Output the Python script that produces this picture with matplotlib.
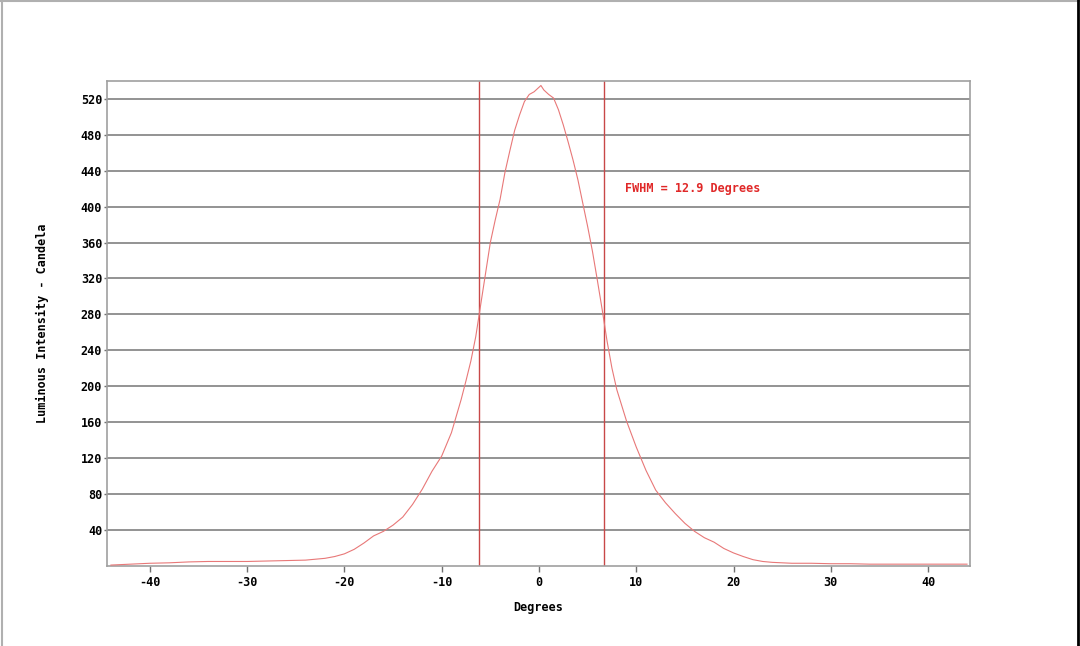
import matplotlib.pyplot as plt
from matplotlib.lines import Line2D

# angle (degrees) and luminous intensity (candela)
degrees = [-44, -42, -40, -38, -36, -34, -32, -30, -28, -26, -24, -23, -22, -21,
           -20, -19, -18, -17, -16, -15, -14, -13, -12, -11, -10, -9, -8, -7.5,
           -7, -6.5, -6, -5.5, -5, -4.5, -4, -3.5, -3, -2.5, -2, -1.5, -1, -0.5,
           0, 0.2, 0.5, 1, 1.5, 2, 2.5, 3, 3.5, 4, 4.5, 5, 5.5, 6, 6.5, 7, 7.5,
           8, 9, 10, 11, 12, 13, 14, 15, 16, 17, 18, 19, 20, 21, 22, 23, 24,
           26, 28, 30, 32, 34, 36, 38, 40, 42, 44]
candela = [0.5, 1.5, 2.5, 3, 4, 4.5, 4.5, 4.5, 5, 5.5, 6, 7, 8, 10,
           13, 18, 25, 33, 38, 45, 54, 68, 85, 105, 122, 148, 185, 206,
           228, 255, 290, 325, 360, 385, 408, 438, 462, 485, 502, 517, 525, 528,
           533, 535, 530, 525, 521, 508, 491, 472, 452, 430, 404, 378, 350, 318, 285, 250, 220,
           196, 161, 132, 106, 84, 70, 58, 47, 38, 31, 26, 19, 14, 10, 6.5, 4.5, 3.5,
           2.5, 2.5, 2, 2, 1.5, 1.5, 1.5, 1.5, 1.5, 1.5]

fwhm_edges = [-6.2, 6.65]
fwhm_label = "FWHM = 12.9 Degrees"
xticks = list(range(-40, 41, 10))
yticks = list(range(40, 521, 40))

fig = plt.figure(figsize=(10.8, 6.46), dpi=100)
ax = fig.add_axes([0.0991, 0.1246, 0.799, 0.75])

mono = dict(family="DejaVu Sans Mono", weight="bold", size=8.5)

for y in yticks:
    ax.axhline(y, color="#8a8a8a", lw=1.3, zorder=1)
ax.plot(degrees, candela, color="#e87878", lw=0.8, zorder=3)
for x in fwhm_edges:
    ax.axvline(x, color="#c84848", lw=1.0, zorder=2)

ax.text(8.85, 420, fwhm_label, color="#e02828", va="center", ha="left",
        family="DejaVu Sans Mono", weight="semibold", size=8.5)

ax.set_xlim(-44.4, 44.3)
ax.set_ylim(0, 540)
ax.set_xticks(xticks)
ax.set_yticks(yticks)
ax.set_xticklabels([str(t) for t in xticks], **mono)
ax.set_yticklabels([str(t) for t in yticks], **mono)
ax.tick_params(axis="x", color="#707070", length=4.5, width=1, pad=3)
ax.tick_params(axis="y", color="#707070", length=2.5, width=1, pad=1)
for s in ax.spines.values():
    s.set_color("#a0a0a0")
    s.set_linewidth(1.2)

ax.set_xlabel("Degrees", labelpad=9, **mono)
ax.set_ylabel("Luminous Intensity - Candela", labelpad=23, **mono)

# thin frame around the picture
fig.add_artist(Line2D([0.002, 0.002], [0, 1], color="#b0b0b0", lw=1.5))
fig.add_artist(Line2D([0, 1], [0.998, 0.998], color="#b0b0b0", lw=1.5))
fig.add_artist(Line2D([0.9985, 0.9985], [0, 1], color="black", lw=2))

fig.savefig("out.png", dpi=100)
